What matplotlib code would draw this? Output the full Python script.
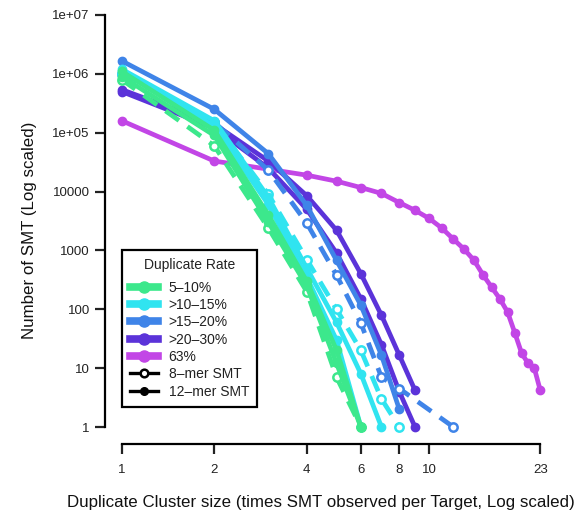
import matplotlib
matplotlib.use("Agg")
import matplotlib.pyplot as plt
from matplotlib.lines import Line2D

plt.rcParams['font.family'] = ['Liberation Sans', 'DejaVu Sans']

# cluster sizes and counts
x_green = [1, 2, 3, 4, 5, 6]
green_a = [1.1e6, 1.1e5, 4.0e3, 300, 20, 1]
green_b = [9.0e5, 9.0e4, 3.0e3, 250, 12, 1]
green_c = [8.0e5, 6.0e4, 2.4e3, 200, 7, 1]

x_cyan_a = [1, 2, 3, 4, 5, 6, 7]
cyan_a = [1.2e6, 1.6e5, 8.0e3, 500, 60, 8, 1]
x_cyan_b = [1, 2, 3, 4, 5, 6]
cyan_b = [1.1e6, 1.3e5, 6.0e3, 350, 30, 1]
x_cyan_c = [1, 2, 3, 4, 5, 6, 7, 8]
cyan_c = [1.0e6, 1.5e5, 9.0e3, 700, 100, 20, 3, 1]

x_blue_a = [1, 2, 3, 4, 5, 6, 7, 8]
blue_a = [1.66e6, 2.5e5, 4.4e4, 5.8e3, 675, 117, 16.6, 2]
x_blue_b = [1, 2, 3, 4, 5, 6, 7, 8, 12]
blue_b = [1.0e6, 1.5e5, 2.3e4, 2.9e3, 380, 58, 7, 4.5, 1]

x_purple = [1, 2, 3, 4, 5, 6, 7, 8, 9]
purple_a = [5.4e5, 1.4e5, 3.3e4, 8.5e3, 2.2e3, 400, 79, 16.6, 4.2]
purple_b = [5.0e5, 1.2e5, 2.5e4, 5.0e3, 900, 150, 25, 4, 1]

x_magenta = list(range(1, 24))
magenta = [1.6e5, 3.3e4, 2.4e4, 1.9e4, 1.5e4, 1.17e4, 9.3e3, 6.5e3, 4.8e3,
           3.5e3, 2.4e3, 1.55e3, 1.05e3, 680, 380, 235, 150, 90, 40, 18,
           12, 10, 4.2]

x_ticks = [1, 2, 4, 6, 8, 10, 23]
y_ticks = [1, 10, 100, 1000, 10000, 1e5, 1e6, 1e7]
y_tick_labels = ["1", "10", "100", "1000", "10000", "1e+05", "1e+06", "1e+07"]

rates = ["5\u201310%", ">10\u201315%", ">15\u201320%", ">20\u201330%", "63%"]
colors = ["#3CE88C", "#30E4F0", "#3F84E8", "#5B33D9", "#C246E6"]
GREEN, CYAN, BLUE, PURPLE, MAGENTA = colors

# (x, y, colour, 8-mer?) in drawing order
series = [
    (x_magenta, magenta, MAGENTA, False),
    (x_purple, purple_b, PURPLE, False),
    (x_purple, purple_a, PURPLE, False),
    (x_blue_b, blue_b, BLUE, True),
    (x_blue_a, blue_a, BLUE, False),
    (x_cyan_c, cyan_c, CYAN, True),
    (x_cyan_b, cyan_b, CYAN, False),
    (x_cyan_a, cyan_a, CYAN, False),
    (x_green, green_c, GREEN, True),
    (x_green, green_b, GREEN, False),
    (x_green, green_a, GREEN, False),
]

fig = plt.figure(figsize=(5.76, 5.13), dpi=100)
ax = fig.add_axes([105 / 576, 69.5 / 513, 452 / 576, 445 / 513])

for xs, ys, col, dashed in series:
    if dashed:
        ax.plot(xs, ys, color=col, lw=3.4, ls=(0, (3.5, 2.2)), marker='o', ms=6,
                mfc='white', mec=col, mew=1.8)
    else:
        ax.plot(xs, ys, color=col, lw=3.4, marker='o', ms=6, mec=col)

ax.set_xscale('log')
ax.set_yscale('log')
ax.set_xlim(10 ** (-0.04 * 1.3617), 23 * 10 ** (0.04 * 1.3617))
ax.set_ylim(10 ** -0.28, 10 ** 7.28)

ax.set_xticks(x_ticks)
ax.set_xticklabels([str(v) for v in x_ticks])
ax.set_yticks(y_ticks)
ax.set_yticklabels(y_tick_labels)
ax.minorticks_off()

for s in ['top', 'right']:
    ax.spines[s].set_visible(False)
ax.spines['left'].set_bounds(1, 1e7)
ax.spines['bottom'].set_bounds(1, 23)
ax.spines['left'].set_linewidth(1.6)
ax.spines['bottom'].set_linewidth(1.6)
ax.tick_params(axis='both', length=7, width=1.6, labelsize=9.5, colors='#222222')
ax.tick_params(axis='x', pad=8)
ax.tick_params(axis='y', pad=4)

fig.text(67 / 576, 1 - 503 / 513,
         "Duplicate Cluster size (times SMT observed per Target, Log scaled)",
         ha='left', va='center', fontsize=12.2, color='#111111')
fig.text(30 / 576, 1 - 230 / 513, "Number of SMT (Log scaled)",
         ha='center', va='center', rotation=90, fontsize=12.2, color='#111111')

handles = [Line2D([0], [0], color=c, lw=5.5, marker='o', ms=8, mec=c) for c in colors]
handles.append(Line2D([0], [0], color='black', lw=2.4, marker='o', ms=5.5,
                      mfc='white', mec='black', mew=1.8))
handles.append(Line2D([0], [0], color='black', lw=2.4, marker='o', ms=5.5,
                      mfc='black', mec='black'))
labels = rates + ["8\u2013mer SMT", "12\u2013mer SMT"]

leg = ax.legend(handles, labels, title="Duplicate Rate", loc='upper left',
                bbox_to_anchor=(17 / 452, 1 - 251.5 / 445), borderaxespad=0,
                fontsize=10, title_fontsize=10, frameon=True, fancybox=False,
                edgecolor='black', framealpha=1, handlelength=2.0,
                handletextpad=0.75, labelspacing=0.24, borderpad=0.6)
leg.get_frame().set_linewidth(1.6)
leg._legend_box.sep = 6
for t in leg.get_texts():
    t.set_color('#222222')
leg.get_title().set_color('#222222')

fig.savefig("out.png", dpi=100)
